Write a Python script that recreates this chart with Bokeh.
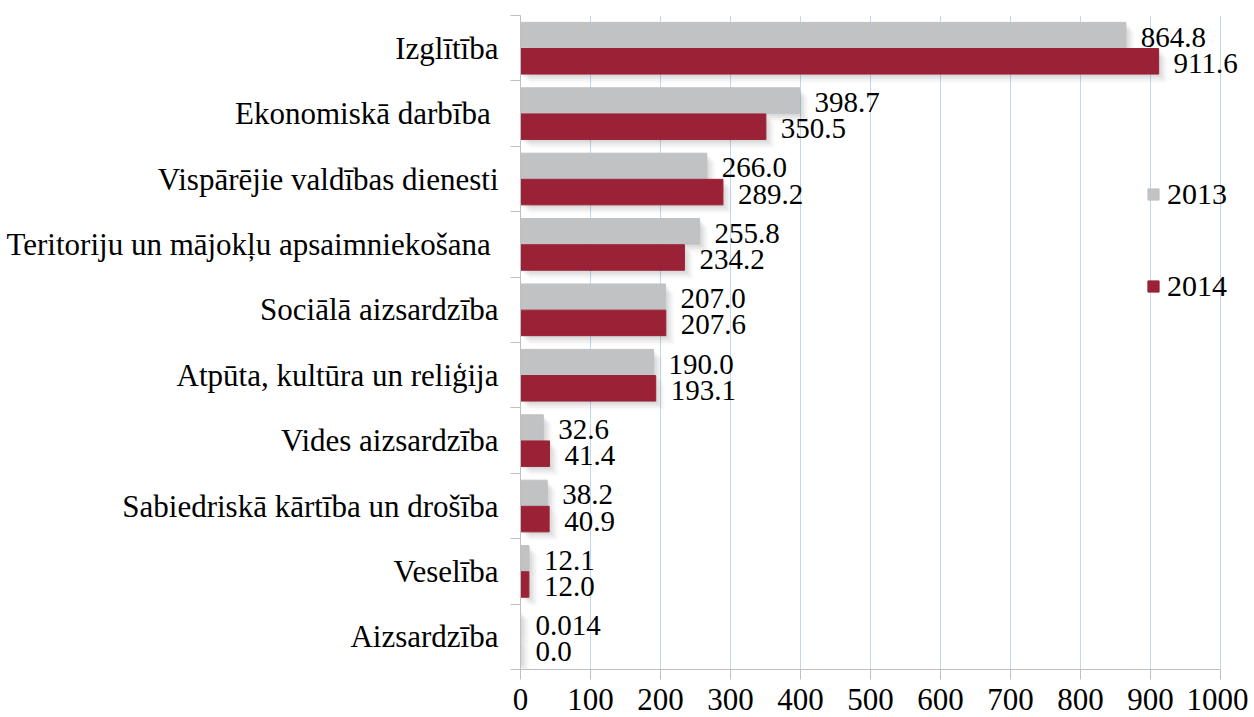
from bokeh.plotting import figure
from bokeh.models import (ColumnDataSource, FixedTicker, Range1d, Legend, LegendItem)
from bokeh.embed import file_html
from bokeh.resources import INLINE

categories = ["Izglītība", "Ekonomiskā darbība ", "Vispārējie valdības dienesti",
              "Teritoriju un mājokļu apsaimniekošana ", "Sociālā aizsardzība",
              "Atpūta, kultūra un reliģija", "Vides aizsardzība",
              "Sabiedriskā kārtība un drošība", "Veselība", "Aizsardzība"]
v2013 = [864.8, 398.7, 266.0, 255.8, 207.0, 190.0, 32.6, 38.2, 12.1, 0.014]
v2014 = [911.6, 350.5, 289.2, 234.2, 207.6, 193.1, 41.4, 40.9, 12.0, 0.0]
labels2013 = ["864.8", "398.7", "266.0", "255.8", "207.0", "190.0", "32.6", "38.2", "12.1", "0.014"]
labels2014 = ["911.6", "350.5", "289.2", "234.2", "207.6", "193.1", "41.4", "40.9", "12.0", "0.0"]
x_ticks = [0, 100, 200, 300, 400, 500, 600, 700, 800, 900, 1000]
series_names = ["2013", "2014"]

GRAY = "#C1C2C4"
RED = "#9B2236"
FONT = "Liberation Serif"

n = len(categories)
ypos = [n - 1 - i for i in range(n)]

PX_X = 0.7          # px per unit along x
PX_Y = 65.4         # px per category
BAR_H = 0.39
OFF = 0.2

src13 = ColumnDataSource(dict(y=[y + OFF for y in ypos], v=v2013, lab=labels2013))
src14 = ColumnDataSource(dict(y=[y - OFF for y in ypos], v=v2014, lab=labels2014))

p = figure(output_backend="svg", toolbar_location=None,
           frame_width=728, frame_height=654,
           x_range=Range1d(0, 1040), y_range=Range1d(-0.5, n - 0.5),
           min_border_left=520, min_border_right=0, min_border_top=15,
           min_border_bottom=47, outline_line_color=None)
p.background_fill_color = "white"
p.border_fill_color = "white"

# soft drop shadows
for dpx, a in [(1, 0.05), (3, 0.045), (5, 0.04), (7, 0.03), (9, 0.02)]:
    dx = dpx / PX_X
    dy = dpx / PX_Y
    for src in (src13, src14):
        sh = ColumnDataSource(dict(y=[y - dy for y in src.data["y"]],
                                   left=[dx] * n,
                                   right=[v + dx if v >= 1 else 0 for v in src.data["v"]]))
        p.hbar(y="y", left="left", right="right", height=BAR_H, source=sh,
               fill_color="black", fill_alpha=a, line_color=None)

r13 = p.hbar(y="y", left=0, right="v", height=BAR_H, source=src13,
             fill_color=GRAY, line_color=GRAY)
r14 = p.hbar(y="y", left=0, right="v", height=BAR_H, source=src14,
             fill_color=RED, line_color=RED)

for src in (src13, src14):
    p.text(x="v", y="y", text="lab", source=src, x_offset=15, y_offset=2,
           text_align="left", text_baseline="middle",
           text_font={"value": FONT}, text_font_size="29px", text_color="black")

# axes
p.xaxis.ticker = FixedTicker(ticks=x_ticks)
p.xaxis.bounds = (0, 1000)
p.xaxis.axis_line_color = "#BFBFBF"
p.xaxis.major_tick_line_color = "#BFBFBF"
p.xaxis.major_tick_out = 10
p.xaxis.major_tick_in = 0
p.xaxis.minor_tick_line_color = None
p.xaxis.major_label_text_font = FONT
p.xaxis.major_label_text_font_size = "31px"
p.xaxis.major_label_text_color = "black"
p.xaxis.major_label_standoff = 9

p.yaxis.ticker = FixedTicker(ticks=ypos, minor_ticks=[y - 0.5 for y in range(n + 1)])
p.yaxis.major_label_overrides = {y: c for y, c in zip(ypos, categories)}
p.yaxis.axis_line_color = "#BFBFBF"
p.yaxis.major_tick_line_color = None
p.yaxis.minor_tick_line_color = "#BFBFBF"
p.yaxis.minor_tick_out = 10
p.yaxis.minor_tick_in = 0
p.yaxis.major_label_text_font = FONT
p.yaxis.major_label_text_font_size = "31px"
p.yaxis.major_label_text_color = "black"
p.yaxis.major_label_standoff = 12

p.xgrid.ticker = FixedTicker(ticks=x_ticks)
p.xgrid.grid_line_color = "#C3D8EB"
p.xgrid.grid_line_width = 1
p.ygrid.grid_line_color = None

legend = Legend(items=[LegendItem(label=series_names[0], renderers=[r13]),
                       LegendItem(label=series_names[1], renderers=[r14])],
                location=(626, 366), orientation="vertical",
                glyph_width=14, glyph_height=14, label_height=30,
                spacing=58, padding=0, margin=0, label_standoff=7,
                border_line_color=None, background_fill_alpha=0,
                label_text_font=FONT, label_text_font_size="30px",
                label_text_color="black")
p.add_layout(legend, "center")

open("out.html", "w").write(file_html(p, INLINE))
